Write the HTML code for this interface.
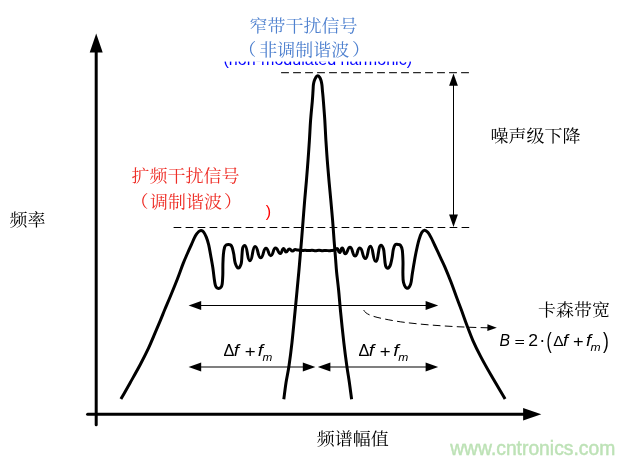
<!DOCTYPE html>
<html lang="zh">
<head>
<meta charset="utf-8">
<title>扩频干扰信号与窄带干扰信号</title>
<style>
html,body{margin:0;padding:0;background:#fff;}
body{width:634px;height:464px;overflow:hidden;}
svg{display:block;will-change:transform;}
</style>
</head>
<body>
<svg width="634" height="464" viewBox="0 0 634 464">
<rect x="0" y="0" width="634" height="464" fill="#fff"/>
<text x="223.5" y="64.8" font-family="'Liberation Sans',sans-serif" font-size="16.08" fill="#0000ff">(non-modulated harmonic)</text>
<text x="115.4" y="217.0" font-family="'Liberation Sans',sans-serif" font-size="16" fill="#ff0000">(modulated harmonic)</text>
<rect x="215" y="8" width="200" height="53.6" fill="#fff"/>
<rect x="100" y="160" width="165.6" height="62" fill="#fff"/>
<path d="M281.1,72.6 H469" stroke="#2a2a2a" stroke-width="1.25" stroke-dasharray="7.8,4.2" fill="none"/>
<path d="M173.6,227.5 H469.2" stroke="#000" stroke-width="1" stroke-dasharray="7.7,4.3" fill="none"/>
<path d="M96.2,424.8 V50" stroke="#000" stroke-width="3" stroke-linecap="round" fill="none"/>
<path d="M87.6,414.25 H525" stroke="#000" stroke-width="3" stroke-linecap="round" fill="none"/>
<polygon points="96.20,33.40 102.70,52.40 89.70,52.40" fill="#000"/>
<polygon points="541.30,414.25 523.10,420.45 523.10,408.05" fill="#000"/>
<path d="M120.90,399.10 C124.00,393.63 126.97,388.47 130.20,382.70 C133.43,376.93 137.27,370.22 140.30,364.50 C143.33,358.78 145.88,353.78 148.40,348.40 C150.92,343.02 153.38,336.92 155.40,332.20 C157.42,327.48 158.93,323.88 160.50,320.10 C162.07,316.32 163.17,313.43 164.80,309.50 C166.43,305.57 168.23,301.50 170.30,296.50 C172.37,291.50 175.05,285.02 177.20,279.50 C179.35,273.98 181.53,267.65 183.20,263.40 C184.87,259.15 185.83,257.13 187.20,254.00 C188.57,250.87 190.00,247.67 191.40,244.60 C192.80,241.53 194.37,237.78 195.60,235.60 C196.83,233.42 197.88,232.37 198.80,231.50 C199.72,230.63 200.32,230.35 201.10,230.40 C201.88,230.45 202.63,230.68 203.50,231.80 C204.37,232.92 205.43,234.93 206.30,237.10 C207.17,239.27 207.97,241.73 208.70,244.80 C209.43,247.87 210.02,251.72 210.70,255.50 C211.38,259.28 212.22,263.67 212.80,267.50 C213.38,271.33 213.80,275.65 214.20,278.50 C214.60,281.35 214.82,283.10 215.20,284.60 C215.58,286.10 215.93,286.87 216.50,287.50 C217.07,288.13 217.90,288.40 218.60,288.40 C219.30,288.40 220.12,288.15 220.70,287.50 C221.28,286.85 221.75,286.58 222.10,284.50 C222.45,282.42 222.67,278.40 222.80,275.00 C222.93,271.60 222.80,267.55 222.90,264.10 C223.00,260.65 223.12,257.12 223.40,254.30 C223.68,251.48 224.13,248.75 224.60,247.20 C225.07,245.65 225.57,245.45 226.20,245.00 C226.83,244.55 227.67,244.50 228.40,244.50 C229.13,244.50 229.97,244.52 230.60,245.00 C231.23,245.48 231.67,245.85 232.20,247.40 C232.73,248.95 233.30,251.70 233.80,254.30 C234.30,256.90 234.45,260.70 235.20,263.00 C235.95,265.30 237.30,268.00 238.30,268.10 C239.30,268.20 240.58,265.82 241.20,263.60 C241.82,261.38 241.75,257.40 242.00,254.80 C242.25,252.20 242.23,249.57 242.70,248.00 C243.17,246.43 243.63,245.40 244.80,245.40 C247.61,245.40 247.09,260.80 249.90,260.80 C252.76,260.80 252.24,246.40 255.10,246.40 C258.18,246.40 257.62,257.80 260.70,257.80 C263.62,257.80 263.08,248.20 266.00,248.20 C268.64,248.20 268.16,255.70 270.80,255.70 C273.38,255.70 272.92,248.00 275.50,248.00 C278.19,248.00 277.70,253.50 280.40,253.50 C282.16,253.50 281.84,248.40 283.60,248.40 C284.87,248.40 284.63,252.00 285.90,252.00 C287.88,252.00 287.52,249.10 289.50,249.10 C291.15,249.10 290.85,251.10 292.50,251.10 C294.04,251.10 293.76,249.50 295.30,249.50 C296.79,249.50 296.51,250.10 298.00,250.10 C299.17,250.27 300.33,250.58 301.50,250.60 C302.67,250.62 303.83,250.20 305.00,250.20 C306.17,250.20 307.33,250.58 308.50,250.60 C309.67,250.62 310.83,250.28 312.00,250.30 C313.17,250.32 314.33,250.70 315.50,250.70 C316.67,250.70 317.83,250.30 319.00,250.30 C320.17,250.30 321.33,250.68 322.50,250.70 C323.67,250.72 324.83,250.38 326.00,250.40 C327.17,250.42 328.50,250.80 329.50,250.80 C330.50,250.80 331.15,250.52 332.00,250.40 C332.85,250.28 333.73,250.20 334.60,250.10 C335.98,250.10 335.73,248.40 337.10,248.40 C338.48,248.40 338.23,252.60 339.60,252.60 C341.03,252.60 340.77,248.10 342.20,248.10 C343.85,248.10 343.55,253.70 345.20,253.70 C347.84,253.70 347.36,247.30 350.00,247.30 C352.81,247.30 352.30,256.00 355.10,256.00 C357.69,256.00 357.22,248.00 359.80,248.00 C362.88,248.00 362.32,258.50 365.40,258.50 C368.15,258.50 367.65,246.30 370.40,246.30 C373.31,246.30 372.78,261.30 375.70,261.30 C378.62,261.30 378.08,245.20 381.00,245.20 C382.17,245.20 382.93,247.20 383.50,249.00 C384.07,250.80 384.13,253.67 384.40,256.00 C384.67,258.33 384.85,261.23 385.10,263.00 C385.35,264.77 385.50,265.72 385.90,266.60 C386.30,267.48 386.93,268.23 387.50,268.30 C388.07,268.37 388.77,267.72 389.30,267.00 C389.83,266.28 390.22,265.67 390.70,264.00 C391.18,262.33 391.77,259.42 392.20,257.00 C392.63,254.58 392.83,251.52 393.30,249.50 C393.77,247.48 394.27,245.75 395.00,244.90 C395.73,244.05 396.80,244.35 397.70,244.40 C398.60,244.45 399.63,244.23 400.40,245.20 C401.17,246.17 401.87,247.40 402.30,250.20 C402.73,253.00 402.90,258.20 403.00,262.00 C403.10,265.80 402.82,269.62 402.90,273.00 C402.98,276.38 402.80,279.75 403.50,282.30 C404.20,284.85 405.92,287.97 407.10,288.30 C408.28,288.63 409.75,286.60 410.60,284.30 C411.45,282.00 411.65,277.87 412.20,274.50 C412.75,271.13 413.27,267.77 413.90,264.10 C414.53,260.43 415.18,256.47 416.00,252.50 C416.82,248.53 417.87,243.60 418.80,240.30 C419.73,237.00 420.65,234.38 421.60,232.70 C422.55,231.02 423.47,230.27 424.50,230.20 C425.53,230.13 426.63,230.93 427.80,232.30 C428.97,233.67 430.37,236.28 431.50,238.40 C432.63,240.52 433.10,241.80 434.60,245.00 C436.10,248.20 438.82,254.00 440.50,257.60 C442.18,261.20 442.98,262.62 444.70,266.60 C446.42,270.58 448.87,276.52 450.80,281.50 C452.73,286.48 454.53,291.75 456.30,296.50 C458.07,301.25 459.62,305.17 461.40,310.00 C463.18,314.83 465.10,320.45 467.00,325.50 C468.90,330.55 470.53,335.15 472.80,340.30 C475.07,345.45 477.62,350.68 480.60,356.40 C483.58,362.12 486.62,367.50 490.70,374.60 C494.78,381.70 500.30,390.87 505.10,399.00" stroke="#000" stroke-width="3" fill="none" stroke-linejoin="round" stroke-linecap="butt"/>
<path d="M283.80,399.30 C284.53,393.77 285.15,388.17 286.00,382.70 C286.85,377.23 287.90,373.23 288.90,366.50 C289.90,359.77 290.98,351.38 292.00,342.30 C293.02,333.22 294.15,320.72 295.00,312.00 C295.85,303.28 296.47,296.67 297.10,290.00 C297.73,283.33 298.32,277.33 298.80,272.00 C299.28,266.67 299.55,263.23 300.00,258.00 C300.45,252.77 300.98,246.87 301.50,240.60 C302.02,234.33 302.57,227.13 303.10,220.40 C303.63,213.67 304.15,206.80 304.70,200.20 C305.25,193.60 305.85,187.40 306.40,180.80 C306.95,174.20 307.50,167.33 308.00,160.60 C308.50,153.87 308.97,147.13 309.40,140.40 C309.83,133.67 310.12,126.72 310.60,120.20 C311.08,113.68 311.90,106.13 312.30,101.30 C312.70,96.47 312.82,93.95 313.00,91.20 C313.18,88.45 313.18,86.53 313.40,84.80 C313.62,83.07 313.88,82.03 314.30,80.80 C314.72,79.57 315.32,78.25 315.90,77.40 C316.48,76.55 316.67,75.70 317.80,75.70 C318.93,75.70 319.15,76.55 319.70,77.40 C320.25,78.25 320.73,79.57 321.10,80.80 C321.47,82.03 321.67,83.07 321.90,84.80 C322.13,86.53 322.25,88.45 322.50,91.20 C322.75,93.95 323.02,96.47 323.40,101.30 C323.78,106.13 324.38,113.68 324.80,120.20 C325.22,126.72 325.48,133.67 325.90,140.40 C326.32,147.13 326.78,153.87 327.30,160.60 C327.82,167.33 328.42,174.20 329.00,180.80 C329.58,187.40 330.20,193.60 330.80,200.20 C331.40,206.80 332.05,213.67 332.60,220.40 C333.15,227.13 333.62,234.33 334.10,240.60 C334.58,246.87 335.08,252.77 335.50,258.00 C335.92,263.23 336.08,266.67 336.60,272.00 C337.12,277.33 337.93,283.33 338.60,290.00 C339.27,296.67 339.73,303.28 340.60,312.00 C341.47,320.72 342.75,333.22 343.80,342.30 C344.85,351.38 345.97,359.77 346.90,366.50 C347.83,373.23 348.62,377.23 349.40,382.70 C350.18,388.17 350.87,393.77 351.60,399.30" stroke="#000" stroke-width="3" fill="none" stroke-linejoin="round" stroke-linecap="butt"/>
<path d="M195,305.5 H432" stroke="#000" stroke-width="1" fill="none"/>
<polygon points="188.60,305.50 201.20,301.10 201.20,309.90" fill="#000"/>
<polygon points="438.20,305.50 425.60,309.90 425.60,301.10" fill="#000"/>
<path d="M195,367 H309 M324,367 H432" stroke="#000" stroke-width="1.2" fill="none"/>
<polygon points="188.60,367.00 201.20,362.60 201.20,371.40" fill="#000"/>
<polygon points="315.40,367.00 302.80,371.40 302.80,362.60" fill="#000"/>
<polygon points="317.80,367.00 330.40,362.60 330.40,371.40" fill="#000"/>
<polygon points="438.20,367.00 425.60,371.40 425.60,362.60" fill="#000"/>
<path d="M453.5,80 V220" stroke="#000" stroke-width="1" fill="none"/>
<polygon points="453.50,73.40 457.90,85.80 449.10,85.80" fill="#000"/>
<polygon points="453.50,227.00 449.10,214.60 457.90,214.60" fill="#000"/>
<path d="M363.7,310.1 C366.5,315.5 376,317.6 396.4,321.2 C416,324.3 450,327 488,327.8" stroke="#000" stroke-width="1" stroke-dasharray="7.7,4.3" fill="none"/>
<polygon points="496.80,327.80 487.34,331.04 487.46,324.24" fill="#000"/>
<text transform="translate(249.50,32.30) scale(1,0.945)" font-family="'Liberation Serif','Noto Serif CJK SC',serif" font-size="18" fill="#4f81cf">窄带干扰信号</text>
<text transform="translate(241.30,56.30) scale(1,0.945)" font-family="'Liberation Serif','Noto Serif CJK SC',serif" font-size="18" fill="#4f81cf"><tspan dx="-3.00">（</tspan><tspan dx="3.00">非调制谐波</tspan><tspan dx="2.80">）</tspan></text>
<text transform="translate(131.50,182.30) scale(1,0.945)" font-family="'Liberation Serif','Noto Serif CJK SC',serif" font-size="18" fill="#ee2d26">扩频干扰信号</text>
<text transform="translate(132.00,208.30) scale(1,0.945)" font-family="'Liberation Serif','Noto Serif CJK SC',serif" font-size="18" fill="#ee2d26"><tspan dx="-1.50">（</tspan><tspan dx="1.50">调制谐波</tspan><tspan dx="2.00">）</tspan></text>
<text transform="translate(9.50,226.30) scale(1,0.945)" font-family="'Liberation Serif','Noto Serif CJK SC',serif" font-size="18" fill="#000">频率</text>
<text transform="translate(490.50,142.00) scale(1,0.945)" font-family="'Liberation Serif','Noto Serif CJK SC',serif" font-size="18" fill="#000">噪声级下降</text>
<text transform="translate(538.00,316.30) scale(1,0.945)" font-family="'Liberation Serif','Noto Serif CJK SC',serif" font-size="18" fill="#000">卡森带宽</text>
<text transform="translate(316.80,444.50) scale(1,0.945)" font-family="'Liberation Serif','Noto Serif CJK SC',serif" font-size="18" fill="#000">频谱幅值</text>
<text transform="translate(223.57,355.80) scale(1.031,1)" font-family="'Liberation Sans',sans-serif" font-size="15.80" fill="#000">Δ</text>
<text transform="translate(233.84,355.80) scale(1.108,1)" font-family="'Liberation Sans',sans-serif" font-size="16.99" font-style="italic" fill="#000">f</text>
<text transform="translate(244.76,357.27) scale(1.069,1)" font-family="'Liberation Sans',sans-serif" font-size="17.40" fill="#000">+</text>
<text transform="translate(257.72,355.80) scale(1.143,1)" font-family="'Liberation Sans',sans-serif" font-size="16.99" font-style="italic" fill="#000">f</text>
<text transform="translate(262.58,360.70) scale(1.062,1)" font-family="'Liberation Sans',sans-serif" font-size="11.11" font-style="italic" fill="#000">m</text>
<text transform="translate(358.57,355.80) scale(1.031,1)" font-family="'Liberation Sans',sans-serif" font-size="15.80" fill="#000">Δ</text>
<text transform="translate(368.81,355.80) scale(1.151,1)" font-family="'Liberation Sans',sans-serif" font-size="16.99" font-style="italic" fill="#000">f</text>
<text transform="translate(379.76,357.27) scale(1.069,1)" font-family="'Liberation Sans',sans-serif" font-size="17.40" fill="#000">+</text>
<text transform="translate(393.20,355.80) scale(1.169,1)" font-family="'Liberation Sans',sans-serif" font-size="16.99" font-style="italic" fill="#000">f</text>
<text transform="translate(398.28,360.70) scale(1.090,1)" font-family="'Liberation Sans',sans-serif" font-size="11.11" font-style="italic" fill="#000">m</text>
<text transform="translate(499.53,345.70) scale(0.961,1)" font-family="'Liberation Sans',sans-serif" font-size="16.38" font-style="italic" fill="#000">B</text>
<text transform="translate(514.49,345.92) scale(1.366,1)" font-family="'Liberation Sans',sans-serif" font-size="13.03" fill="#000">=</text>
<text transform="translate(528.22,345.70) scale(1.091,1)" font-family="'Liberation Sans',sans-serif" font-size="16.14" fill="#000">2</text>
<text transform="translate(539.20,346.30) scale(1.000,1)" font-family="'Liberation Sans',sans-serif" font-size="18.18" fill="#000">·</text>
<text transform="translate(546.47,348.15) scale(0.703,1)" font-family="'Liberation Sans',sans-serif" font-size="22.13" fill="#000">(</text>
<text transform="translate(553.29,345.70) scale(0.998,1)" font-family="'Liberation Sans',sans-serif" font-size="15.51" fill="#000">Δ</text>
<text transform="translate(563.05,345.70) scale(1.128,1)" font-family="'Liberation Sans',sans-serif" font-size="16.16" font-style="italic" fill="#000">f</text>
<text transform="translate(572.97,347.11) scale(1.083,1)" font-family="'Liberation Sans',sans-serif" font-size="16.80" fill="#000">+</text>
<text transform="translate(585.94,345.70) scale(1.165,1)" font-family="'Liberation Sans',sans-serif" font-size="16.16" font-style="italic" fill="#000">f</text>
<text transform="translate(590.38,350.70) scale(1.096,1)" font-family="'Liberation Sans',sans-serif" font-size="11.11" font-style="italic" fill="#000">m</text>
<text transform="translate(603.00,348.15) scale(0.791,1)" font-family="'Liberation Sans',sans-serif" font-size="22.13" fill="#000">)</text>
<text x="450.2" y="454.6" font-family="'Liberation Sans',sans-serif" font-size="19.3" fill="#bde2b6" stroke="#bde2b6" stroke-width="0.45">www.cntronics.com</text>
</svg>
</body>
</html>
